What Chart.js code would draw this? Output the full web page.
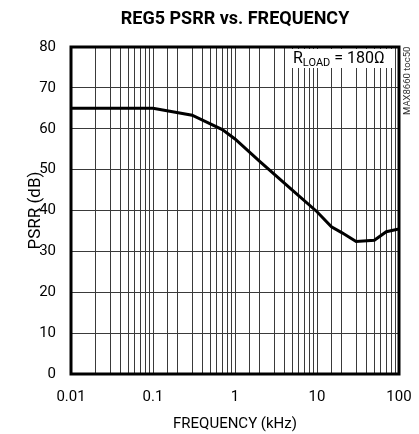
<!DOCTYPE html>
<html>
<head>
<meta charset="utf-8">
<script src="https://cdn.jsdelivr.net/npm/chart.js@4.4.1/dist/chart.umd.min.js"></script>
<style>
  html, body { margin: 0; padding: 0; background: #fff; }
</style>
</head>
<body>
<canvas id="myChart" width="419" height="434"></canvas>
<script>
// data
const freqKHz = [0.01, 0.03, 0.1, 0.3, 0.7, 1, 2, 5, 10, 15, 20, 30, 50, 70, 100];
const psrrDb = [65, 65, 65, 63.3, 59.8, 57.5, 52, 45, 39.7, 36, 34.6, 32.4, 32.7, 34.8, 35.5];
const xDecades = [0.01, 0.1, 1, 10, 100];
const yTicks = [0, 10, 20, 30, 40, 50, 60, 70, 80];

// no condensed face installed, Roboto is the narrowest one
const FONT = 'Roboto, "Liberation Sans", sans-serif';

function isDecade(v) {
    return xDecades.some(d => Math.abs(Math.log10(v) - Math.log10(d)) < 1e-6);
}

const frameAndNotes = {
    id: 'frameAndNotes',
    beforeDatasetsDraw(chart) {
        const ctx = chart.ctx;
        ctx.save();
        // R_LOAD label box
        ctx.fillStyle = '#fff';
        ctx.fillRect(288, 49, 107, 19);
        ctx.fillStyle = '#000';
        ctx.textBaseline = 'alphabetic';
        ctx.textAlign = 'left';
        let x = 293;
        ctx.font = '16px ' + FONT;
        ctx.fillText('R', x, 63);
        x += ctx.measureText('R').width;
        ctx.font = '11px ' + FONT;
        ctx.fillText('LOAD', x, 66);
        x += ctx.measureText('LOAD').width;
        ctx.font = '16px ' + FONT;
        ctx.fillText(' = 180Ω', x, 63);
        ctx.restore();
    },
    afterDatasetsDraw(chart) {
        const {ctx, chartArea: a} = chart;
        ctx.save();
        ctx.strokeStyle = '#000';
        ctx.lineWidth = 3;
        ctx.strokeRect(a.left, a.top, a.right - a.left, a.bottom - a.top);
        // side code
        ctx.translate(408, 115);
        ctx.rotate(-Math.PI / 2);
        ctx.fillStyle = '#333';
        ctx.font = '9.5px ' + FONT;
        ctx.textBaseline = 'middle';
        ctx.textAlign = 'left';
        ctx.fillText('MAX8660 toc50', 0, 0);
        ctx.restore();
    }
};

new Chart(document.getElementById('myChart'), {
    type: 'line',
    data: {
        datasets: [{
            data: freqKHz.map((f, i) => ({x: f, y: psrrDb[i]})),
            borderColor: '#000',
            borderWidth: 3,
            pointRadius: 0,
            tension: 0,
            fill: false
        }]
    },
    options: {
        responsive: false,
        animation: false,
        devicePixelRatio: 1,
        layout: {padding: {left: 0, right: 20, top: 0, bottom: 0}},
        plugins: {
            legend: {display: false},
            tooltip: {enabled: false},
            title: {
                display: true,
                fullSize: false,
                text: 'REG5 PSRR vs. FREQUENCY',
                color: '#000',
                font: {family: FONT, size: 18, weight: 'bold', lineHeight: 1.2},
                padding: {top: 9, bottom: 16.4}
            }
        },
        scales: {
            x: {
                type: 'logarithmic',
                min: 0.01,
                max: 100,
                afterFit(scale) {
                    scale.height = 60;
                    scale.paddingLeft = 0;
                    scale.paddingRight = 0;
                },
                border: {display: false},
                grid: {color: '#3a3a3a', lineWidth: 1, drawTicks: false},
                ticks: {
                    autoSkip: false,
                    maxRotation: 0,
                    color: '#000',
                    padding: 14,
                    font: {family: FONT, size: 15},
                    callback: (v) => isDecade(v) ? String(v) : ''
                },
                title: {
                    display: true,
                    text: 'FREQUENCY (kHz)',
                    color: '#000',
                    font: {family: FONT, size: 15},
                    padding: {top: 0, bottom: 1}
                }
            },
            y: {
                min: 0,
                max: 80,
                afterFit(scale) {
                    scale.width = 71;
                    scale.paddingTop = 0;
                    scale.paddingBottom = 0;
                },
                afterBuildTicks(scale) { scale.ticks = yTicks.map(v => ({value: v})); },
                border: {display: false},
                grid: {color: '#3a3a3a', lineWidth: 1, drawTicks: false},
                ticks: {
                    color: '#000',
                    padding: 15,
                    font: {family: FONT, size: 15}
                },
                title: {
                    display: true,
                    text: 'PSRR (dB)',
                    color: '#000',
                    font: {family: FONT, size: 17},
                    padding: {top: 26, bottom: 0}
                }
            }
        }
    },
    plugins: [frameAndNotes]
});
</script>
</body>
</html>
